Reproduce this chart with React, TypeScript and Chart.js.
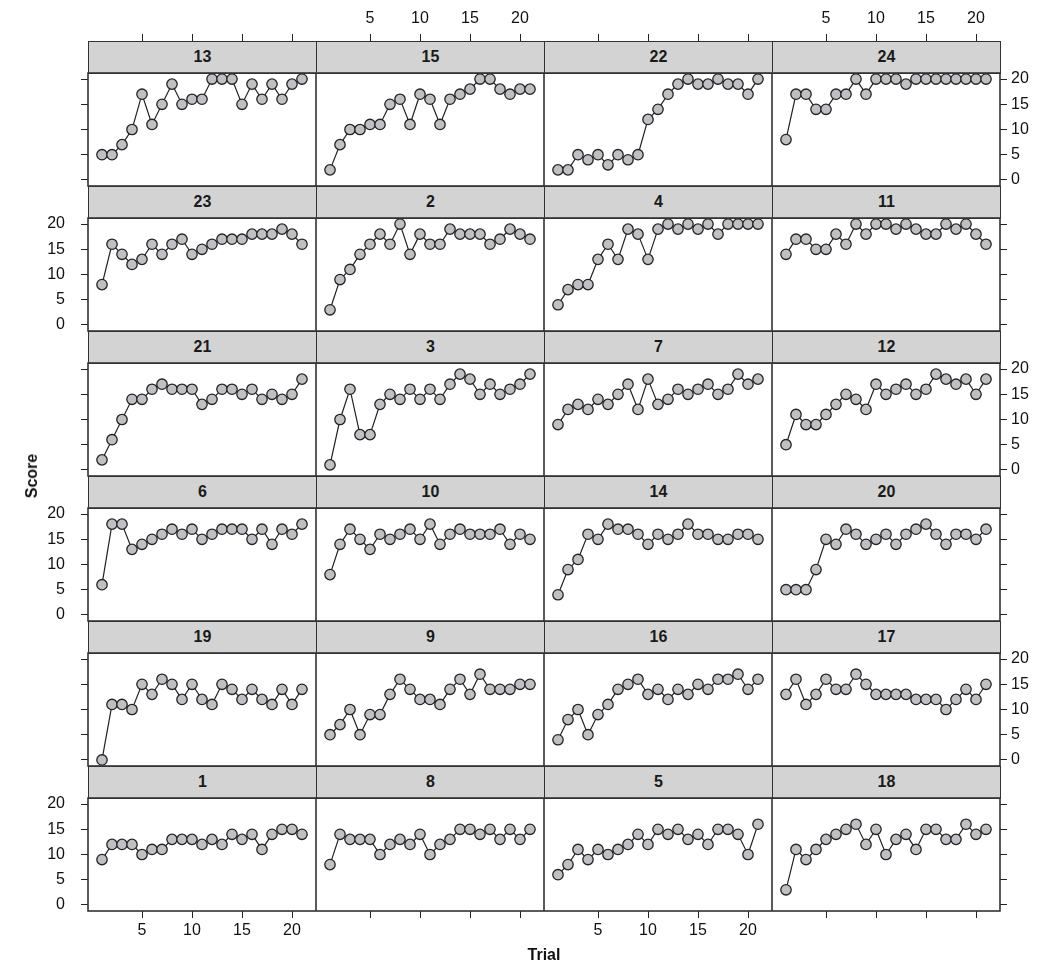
import React, { useEffect, useRef } from 'react';
import { Chart, registerables } from 'chart.js';

Chart.register(...registerables);

const trials = [1, 2, 3, 4, 5, 6, 7, 8, 9, 10, 11, 12, 13, 14, 15, 16, 17, 18, 19, 20, 21];
const xTickValues = [5, 10, 15, 20];
const yTickValues = [0, 5, 10, 15, 20];

const subject13 = [5, 5, 7, 10, 17, 11, 15, 19, 15, 16, 16, 20, 20, 20, 15, 19, 16, 19, 16, 19, 20];
const subject15 = [2, 7, 10, 10, 11, 11, 15, 16, 11, 17, 16, 11, 16, 17, 18, 20, 20, 18, 17, 18, 18];
const subject22 = [2, 2, 5, 4, 5, 3, 5, 4, 5, 12, 14, 17, 19, 20, 19, 19, 20, 19, 19, 17, 20];
const subject24 = [8, 17, 17, 14, 14, 17, 17, 20, 17, 20, 20, 20, 19, 20, 20, 20, 20, 20, 20, 20, 20];
const subject23 = [8, 16, 14, 12, 13, 16, 14, 16, 17, 14, 15, 16, 17, 17, 17, 18, 18, 18, 19, 18, 16];
const subject2 = [3, 9, 11, 14, 16, 18, 16, 20, 14, 18, 16, 16, 19, 18, 18, 18, 16, 17, 19, 18, 17];
const subject4 = [4, 7, 8, 8, 13, 16, 13, 19, 18, 13, 19, 20, 19, 20, 19, 20, 18, 20, 20, 20, 20];
const subject11 = [14, 17, 17, 15, 15, 18, 16, 20, 18, 20, 20, 19, 20, 19, 18, 18, 20, 19, 20, 18, 16];
const subject21 = [2, 6, 10, 14, 14, 16, 17, 16, 16, 16, 13, 14, 16, 16, 15, 16, 14, 15, 14, 15, 18];
const subject3 = [1, 10, 16, 7, 7, 13, 15, 14, 16, 14, 16, 14, 17, 19, 18, 15, 17, 15, 16, 17, 19];
const subject7 = [9, 12, 13, 12, 14, 13, 15, 17, 12, 18, 13, 14, 16, 15, 16, 17, 15, 16, 19, 17, 18];
const subject12 = [5, 11, 9, 9, 11, 13, 15, 14, 12, 17, 15, 16, 17, 15, 16, 19, 18, 17, 18, 15, 18];
const subject6 = [6, 18, 18, 13, 14, 15, 16, 17, 16, 17, 15, 16, 17, 17, 17, 15, 17, 14, 17, 16, 18];
const subject10 = [8, 14, 17, 15, 13, 16, 15, 16, 17, 15, 18, 14, 16, 17, 16, 16, 16, 17, 14, 16, 15];
const subject14 = [4, 9, 11, 16, 15, 18, 17, 17, 16, 14, 16, 15, 16, 18, 16, 16, 15, 15, 16, 16, 15];
const subject20 = [5, 5, 5, 9, 15, 14, 17, 16, 14, 15, 16, 14, 16, 17, 18, 16, 14, 16, 16, 15, 17];
const subject19 = [0, 11, 11, 10, 15, 13, 16, 15, 12, 15, 12, 11, 15, 14, 12, 14, 12, 11, 14, 11, 14];
const subject9 = [5, 7, 10, 5, 9, 9, 13, 16, 14, 12, 12, 11, 14, 16, 13, 17, 14, 14, 14, 15, 15];
const subject16 = [4, 8, 10, 5, 9, 11, 14, 15, 16, 13, 14, 12, 14, 13, 15, 14, 16, 16, 17, 14, 16];
const subject17 = [13, 16, 11, 13, 16, 14, 14, 17, 15, 13, 13, 13, 13, 12, 12, 12, 10, 12, 14, 12, 15];
const subject1 = [9, 12, 12, 12, 10, 11, 11, 13, 13, 13, 12, 13, 12, 14, 13, 14, 11, 14, 15, 15, 14];
const subject8 = [8, 14, 13, 13, 13, 10, 12, 13, 12, 14, 10, 12, 13, 15, 15, 14, 15, 13, 15, 13, 15];
const subject5 = [6, 8, 11, 9, 11, 10, 11, 12, 14, 12, 15, 14, 15, 13, 14, 12, 15, 15, 14, 10, 16];
const subject18 = [3, 11, 9, 11, 13, 14, 15, 16, 12, 15, 10, 13, 14, 11, 15, 15, 13, 13, 16, 14, 15];

const panelRows: [string, number[]][][] = [
  [['13', subject13], ['15', subject15], ['22', subject22], ['24', subject24]],
  [['23', subject23], ['2', subject2], ['4', subject4], ['11', subject11]],
  [['21', subject21], ['3', subject3], ['7', subject7], ['12', subject12]],
  [['6', subject6], ['10', subject10], ['14', subject14], ['20', subject20]],
  [['19', subject19], ['9', subject9], ['16', subject16], ['17', subject17]],
  [['1', subject1], ['8', subject8], ['5', subject5], ['18', subject18]],
];

const GRID_LEFT = 88;
const GRID_TOP = 41;
const COL_W = 228;
const ROW_H = 145;
const STRIP_H = 32;
const PLOT_H = ROW_H - STRIP_H;
const LEFT_AXIS = 80;
const RIGHT_AXIS = 50;
const TOP_AXIS = 41;
const BOTTOM_AXIS = 40;
const MARGIN = 12;

const FONT = 'Liberation Sans, Arial, Helvetica, sans-serif';
const tickFont = { family: FONT, size: 16 };

const fixSize = (size: number) => (scale: any) => {
  if (!scale.options.display) {
    scale.width = 0;
    scale.height = 0;
    return;
  }
  if (scale.isHorizontal()) scale.height = size;
  else scale.width = size;
  scale.paddingLeft = 0;
  scale.paddingRight = 0;
  scale.paddingTop = 0;
  scale.paddingBottom = 0;
};

const gridOpts = {
  display: true,
  drawOnChartArea: false,
  drawTicks: true,
  tickLength: 7,
  color: '#222',
  lineWidth: 1,
};

const boxPlugin = {
  id: 'panelBox',
  afterDatasetsDraw(chart: any) {
    const { ctx, chartArea: a } = chart;
    ctx.save();
    ctx.strokeStyle = '#333';
    ctx.lineWidth = 1.6;
    ctx.strokeRect(a.left, a.top, a.right - a.left, a.bottom - a.top);
    ctx.restore();
  },
};

function Panel({ r, c, values }: { r: number; c: number; values: number[] }) {
  const ref = useRef<HTMLCanvasElement>(null);
  const extraL = c === 0 ? LEFT_AXIS : 0;
  const extraR = c === 3 ? RIGHT_AXIS : 0;
  const padT = r === 0 ? 0 : MARGIN;
  const padB = r === 5 ? 0 : MARGIN;
  const extraT = r === 0 ? TOP_AXIS + STRIP_H : padT;
  const extraB = r === 5 ? BOTTOM_AXIS : padB;
  const left = GRID_LEFT + COL_W * c - extraL;
  const top = GRID_TOP + ROW_H * r + STRIP_H - extraT;
  const w = COL_W + extraL + extraR;
  const h = PLOT_H + extraT + extraB;

  useEffect(() => {
    if (!ref.current) return;
    const xTicks = (s: any) => {
      s.ticks = xTickValues.map((v) => ({ value: v }));
    };
    const yTicks = (s: any) => {
      s.ticks = yTickValues.map((v) => ({ value: v }));
    };
    const yLabels = (c === 0 && r % 2 === 1) || (c === 3 && r % 2 === 0);
    const scales: any = {
      x: {
        type: 'linear',
        min: -0.4,
        max: 22.4,
        position: 'bottom',
        display: r === 5,
        afterBuildTicks: xTicks,
        afterFit: fixSize(BOTTOM_AXIS),
        ticks: {
          font: tickFont,
          color: c % 2 === 0 ? '#111' : 'rgba(0,0,0,0)',
          padding: 3,
          maxRotation: 0,
          autoSkip: false,
        },
        grid: gridOpts,
        border: { display: false },
      },
      y: {
        type: 'linear',
        min: -1.2,
        max: 21.2,
        position: c === 3 ? 'right' : 'left',
        display: c === 0 || c === 3,
        afterBuildTicks: yTicks,
        afterFit: fixSize(c === 3 ? RIGHT_AXIS : LEFT_AXIS),
        ticks: {
          font: tickFont,
          color: yLabels ? '#111' : 'rgba(0,0,0,0)',
          padding: c === 0 ? 16 : 4,
          autoSkip: false,
        },
        grid: gridOpts,
        border: { display: false },
      },
    };
    if (r === 0) {
      scales.xTop = {
        type: 'linear',
        min: -0.4,
        max: 22.4,
        position: 'top',
        weight: 1,
        display: true,
        afterBuildTicks: xTicks,
        afterFit: fixSize(TOP_AXIS),
        ticks: {
          font: tickFont,
          color: c % 2 === 1 ? '#111' : 'rgba(0,0,0,0)',
          padding: 6,
          maxRotation: 0,
          autoSkip: false,
        },
        grid: gridOpts,
        border: { display: false },
      };
      scales.strip = {
        type: 'linear',
        min: 0,
        max: 1,
        position: 'top',
        weight: 0,
        display: true,
        afterFit: fixSize(STRIP_H),
        ticks: { display: false },
        grid: { display: false },
        border: { display: false },
      };
    }
    const chart = new Chart(ref.current, {
      type: 'line',
      data: {
        datasets: [
          {
            data: trials.map((t, i) => ({ x: t, y: values[i] })),
            xAxisID: 'x',
            yAxisID: 'y',
            borderColor: '#222',
            borderWidth: 1.2,
            pointRadius: 5.2,
            pointBackgroundColor: '#bfc0c4',
            pointBorderColor: '#222',
            pointBorderWidth: 1.3,
            tension: 0,
            clip: false as any,
          },
        ],
      },
      options: {
        responsive: false,
        maintainAspectRatio: false,
        animation: false,
        devicePixelRatio: 1,
        events: [],
        layout: { padding: { top: padT, bottom: padB, left: 0, right: 0 }, autoPadding: false } as any,
        plugins: { legend: { display: false }, tooltip: { enabled: false } },
        scales,
      },
      plugins: [boxPlugin],
    });
    return () => chart.destroy();
  }, []);

  return (
    <canvas
      ref={ref}
      width={w}
      height={h}
      style={{ position: 'absolute', left, top, width: w, height: h }}
    />
  );
}

export default function App() {
  return (
    <div
      style={{
        position: 'absolute',
        left: 0,
        top: 0,
        width: 1050,
        height: 979,
        overflow: 'hidden',
        background: '#fff',
        fontFamily: FONT,
      }}
    >
      {panelRows.map((row, r) =>
        row.map(([label], c) => (
          <div
            key={'s' + r + '-' + c}
            style={{
              position: 'absolute',
              left: GRID_LEFT + COL_W * c,
              top: GRID_TOP + ROW_H * r,
              width: COL_W + 1,
              height: STRIP_H + 1,
              boxSizing: 'border-box',
              background: '#d3d3d3',
              border: '1.5px solid #333',
              fontWeight: 'bold',
              fontSize: 16,
              color: '#1a1a1a',
              textAlign: 'center',
              lineHeight: STRIP_H - 2 + 'px',
            }}
          >
            {label}
          </div>
        ))
      )}
      {panelRows.map((row, r) =>
        row.map(([label, values], c) => <Panel key={'p' + label} r={r} c={c} values={values} />)
      )}
      <div
        style={{
          position: 'absolute',
          left: 32,
          top: 476,
          transform: 'translate(-50%, -50%) rotate(-90deg)',
          fontWeight: 'bold',
          fontSize: 16,
          color: '#111',
          whiteSpace: 'nowrap',
        }}
      >
        Score
      </div>
      <div
        style={{
          position: 'absolute',
          left: 544,
          top: 955,
          transform: 'translate(-50%, -50%)',
          fontWeight: 'bold',
          fontSize: 16,
          color: '#111',
          whiteSpace: 'nowrap',
        }}
      >
        Trial
      </div>
    </div>
  );
}
